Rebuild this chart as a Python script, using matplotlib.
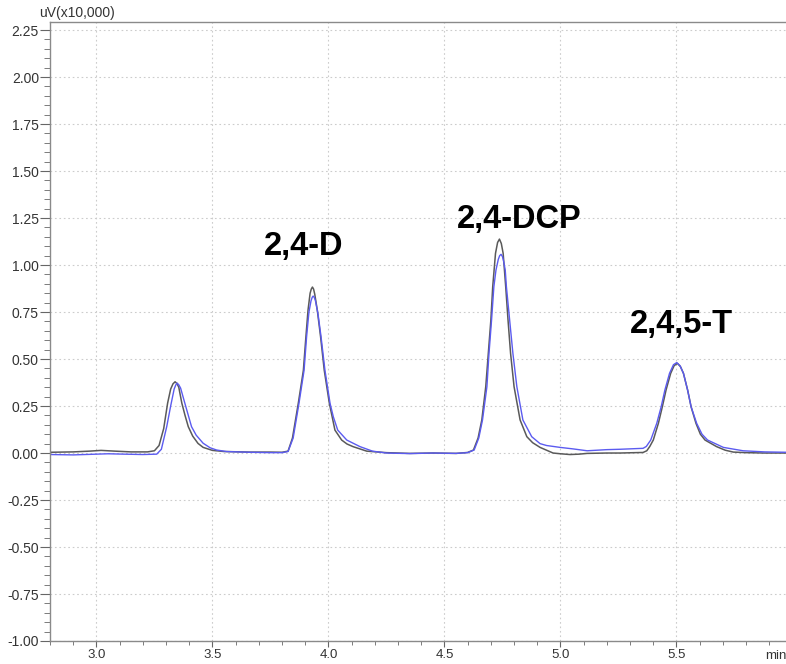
import numpy as np
import matplotlib
matplotlib.use("Agg")
import matplotlib.pyplot as plt
from matplotlib.ticker import MultipleLocator, FormatStrFormatter

# retention time (min) and signal (uV x 10,000)
black_t = [2.80, 2.90, 2.97, 3.02, 3.08, 3.15, 3.22, 3.25, 3.27, 3.29, 3.307, 3.32, 3.33, 3.339, 3.347,
           3.355, 3.368, 3.382, 3.396, 3.415, 3.438, 3.46, 3.50, 3.55, 3.66, 3.75, 3.80, 3.826, 3.845,
           3.870, 3.892, 3.903, 3.912, 3.921, 3.926, 3.931, 3.936, 3.941, 3.952, 3.966, 3.982, 4.004,
           4.028, 4.057, 4.08, 4.106, 4.165, 4.25, 4.35, 4.45, 4.55, 4.60, 4.625, 4.645, 4.661, 4.678,
           4.689, 4.70, 4.708, 4.72, 4.729, 4.737, 4.745, 4.753, 4.764, 4.774, 4.785, 4.80, 4.826,
           4.855, 4.88, 4.912, 4.94, 4.968, 5.00, 5.041, 5.08, 5.115, 5.20, 5.257, 5.356, 5.372,
           5.385, 5.40, 5.422, 5.439, 5.455, 5.475, 5.49, 5.504, 5.517, 5.53, 5.548, 5.563, 5.584,
           5.603, 5.623, 5.673, 5.71, 5.745, 5.80, 5.88, 5.972]
black_v = [0.004, 0.006, 0.010, 0.014, 0.010, 0.006, 0.006, 0.012, 0.040, 0.130, 0.266, 0.34, 0.368, 0.379, 0.37,
           0.35, 0.266, 0.20, 0.140, 0.09, 0.051, 0.030, 0.014, 0.008, 0.005, 0.005, 0.004, 0.010, 0.08,
           0.264, 0.44, 0.62, 0.76, 0.85, 0.872, 0.883, 0.872, 0.845, 0.76, 0.62, 0.44, 0.264,
           0.122, 0.069, 0.048, 0.034, 0.010, 0.002, -0.002, 0.000, -0.002, 0.003, 0.016, 0.08, 0.176, 0.353,
           0.53, 0.707, 0.885, 1.062, 1.12, 1.138, 1.115, 1.062, 0.885, 0.707, 0.53, 0.353, 0.176,
           0.087, 0.055, 0.030, 0.015, 0.000, -0.004, -0.008, -0.006, -0.002, 0.000, 0.000, 0.003, 0.012,
           0.035, 0.069, 0.158, 0.246, 0.335, 0.424, 0.465, 0.477, 0.46, 0.424, 0.335, 0.246, 0.158,
           0.10, 0.069, 0.034, 0.015, 0.005, 0.002, 0.000, 0.000]

blue_t = [2.80, 2.90, 3.00, 3.05, 3.12, 3.20, 3.26, 3.28, 3.303, 3.32, 3.335, 3.342, 3.348, 3.355, 3.363,
          3.38, 3.41, 3.43, 3.46, 3.49, 3.518, 3.56, 3.66, 3.75, 3.80, 3.826, 3.848, 3.873, 3.895,
          3.906, 3.916, 3.925, 3.930, 3.934, 3.939, 3.944, 3.955, 3.968, 3.985, 4.007, 4.021, 4.04,
          4.079, 4.136, 4.19, 4.25, 4.35, 4.45, 4.55, 4.60, 4.628, 4.648, 4.664, 4.683, 4.692,
          4.703, 4.713, 4.722, 4.732, 4.738, 4.744, 4.750, 4.755, 4.762, 4.767, 4.781, 4.795, 4.812,
          4.838, 4.876, 4.912, 4.94, 4.998, 5.054, 5.115, 5.20, 5.257, 5.356, 5.37, 5.389, 5.415,
          5.434, 5.45, 5.47, 5.487, 5.501, 5.515, 5.53, 5.548, 5.563, 5.587, 5.61, 5.634, 5.702,
          5.787, 5.88, 5.972]
blue_v = [-0.008, -0.010, -0.006, -0.004, -0.006, -0.008, -0.006, 0.020, 0.14, 0.25, 0.34, 0.362, 0.372, 0.363, 0.345,
          0.27, 0.14, 0.095, 0.052, 0.028, 0.016, 0.008, 0.004, 0.002, 0.002, 0.008, 0.08, 0.264, 0.44,
          0.62, 0.75, 0.81, 0.828, 0.835, 0.828, 0.81, 0.74, 0.62, 0.44, 0.264, 0.193, 0.122,
          0.069, 0.034, 0.010, 0.000, -0.003, 0.000, -0.002, 0.002, 0.016, 0.08, 0.176, 0.353, 0.53,
          0.707, 0.885, 0.973, 1.03, 1.05, 1.057, 1.045, 1.02, 0.973, 0.885, 0.707, 0.53, 0.353,
          0.176, 0.087, 0.05, 0.04, 0.03, 0.022, 0.012, 0.018, 0.020, 0.025, 0.035, 0.069, 0.158,
          0.246, 0.335, 0.424, 0.47, 0.481, 0.465, 0.424, 0.335, 0.246, 0.158, 0.10, 0.069, 0.030,
          0.012, 0.006, 0.004]

peak_names = ["2,4-D", "2,4-DCP", "2,4,5-T"]
peak_label_x = [3.891, 4.822, 5.52]
peak_label_y = [1.053, 1.197, 0.638]


def main():
    fig = plt.figure(figsize=(7.86, 6.64), dpi=100)
    ax = fig.add_axes([50 / 786, 23 / 664, 736 / 786, 619 / 664])

    ax.plot(black_t, black_v, color="#5a5a5a", lw=1.1)
    ax.plot(blue_t, blue_v, color="#5b5bf0", lw=1.0)

    for name, x, y in zip(peak_names, peak_label_x, peak_label_y):
        ax.text(x, y, name, ha="center", va="baseline", fontsize=23.5,
                fontweight="bold", family="Liberation Sans", color="black")

    ax.set_xlim(2.8, 5.972)
    ax.set_ylim(-1.0, 2.293)
    ax.xaxis.set_major_locator(MultipleLocator(0.5))
    ax.xaxis.set_minor_locator(MultipleLocator(0.1))
    ax.yaxis.set_major_locator(MultipleLocator(0.25))
    ax.yaxis.set_minor_locator(MultipleLocator(0.05))
    ax.xaxis.set_major_formatter(FormatStrFormatter("%.1f"))
    ax.yaxis.set_major_formatter(FormatStrFormatter("%.2f"))

    ax.grid(True, which="major", color="#cccccc", lw=0.8, linestyle=(0, (1.5, 2.5)))
    ax.set_axisbelow(True)

    for s in ["left", "bottom", "top"]:
        ax.spines[s].set_color("#8a8a8a")
        ax.spines[s].set_linewidth(1.0)
    ax.spines["right"].set_visible(False)

    ax.tick_params(axis="y", which="major", length=7, color="#666666", labelsize=10,
                   labelcolor="#333333", pad=1)
    ax.tick_params(axis="y", which="minor", length=4, color="#666666")
    ax.tick_params(axis="x", which="major", length=4, color="#666666", labelsize=9.5,
                   labelcolor="#333333", pad=1.5)
    ax.tick_params(axis="x", which="minor", length=3, color="#666666")
    for lab in ax.get_xticklabels() + ax.get_yticklabels():
        lab.set_family("Liberation Sans")

    fig.text(77 / 786, 1 - 13 / 664, "uV(x10,000)", ha="center", va="center",
             fontsize=10, color="#333333", family="Liberation Sans")
    fig.text(776 / 786, 1 - 656 / 664, "min", ha="center", va="center",
             fontsize=9.5, color="#333333", family="Liberation Sans")

    fig.savefig("out.png", dpi=100)


if __name__ == "__main__":
    main()
